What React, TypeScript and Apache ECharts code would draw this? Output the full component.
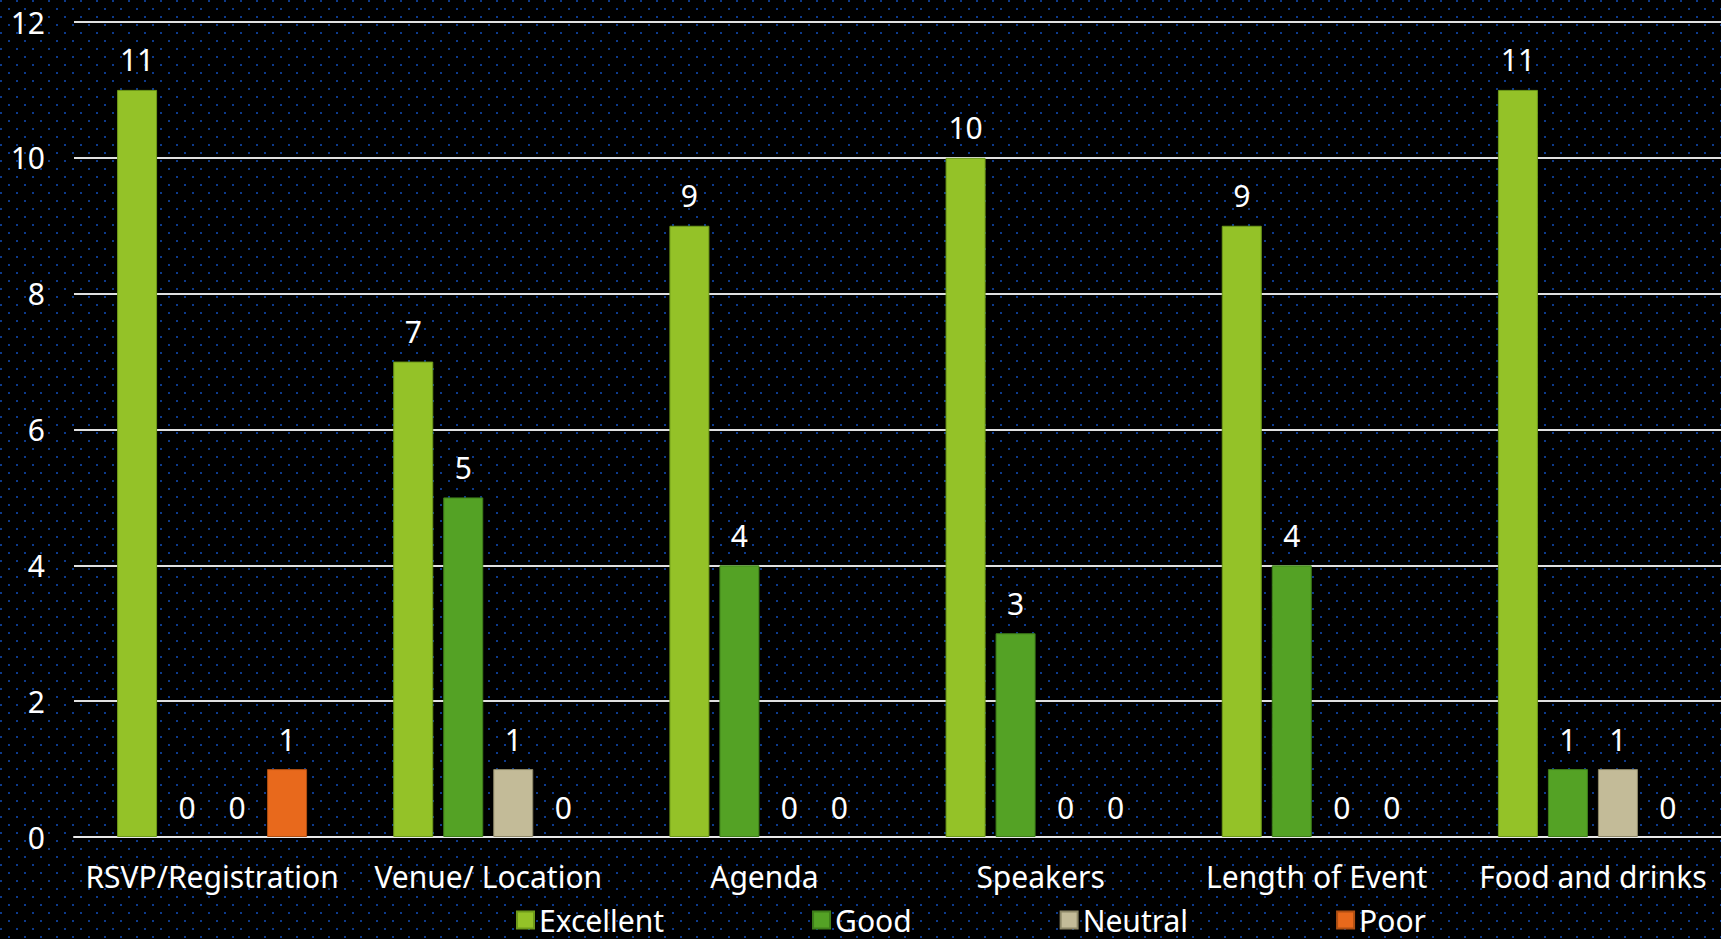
import React, { useEffect, useRef } from "react";
import * as echarts from "echarts";

const categories = [
  "RSVP/Registration",
  "Venue/ Location",
  "Agenda",
  "Speakers",
  "Length of Event",
  "Food and drinks",
];
const seriesNames = ["Excellent", "Good", "Neutral", "Poor"];
const excellent = [11, 7, 9, 10, 9, 11];
const good = [0, 5, 4, 3, 4, 1];
const neutral = [0, 1, 0, 0, 0, 1];
const poor = [1, 0, 0, 0, 0, 0];
const colors = ["#94C228", "#54A225", "#C3BB98", "#E8691C"];
const borders = ["#6E9A1A", "#3E7E1A", "#8E8868", "#B04F12"];
const yTicks = { min: 0, max: 12, interval: 2 };

const dots =
  "url(\"data:image/svg+xml;utf8," +
  encodeURIComponent(
    "<svg xmlns='http://www.w3.org/2000/svg' width='16' height='16'><rect x='0' y='0' width='2' height='2' fill='#0d3a8c'/><rect x='8' y='8' width='2' height='2' fill='#0d3a8c'/></svg>"
  ) +
  "\")";

export default function App() {
  const ref = useRef<HTMLDivElement>(null);
  useEffect(() => {
    if (!ref.current) return;
    const chart = echarts.init(ref.current, null, { renderer: "svg" });
    const values = [excellent, good, neutral, poor];
    const font = "'Noto Sans', sans-serif";
    chart.setOption({
      animation: false,
      backgroundColor: "transparent",
      textStyle: { fontFamily: font },
      grid: { left: 74, right: 0, top: 22, bottom: 102, containLabel: false },
      legend: {
        left: 511,
        top: 900,
        itemWidth: 17,
        itemHeight: 17,
        itemGap: 148,
        icon: "rect",
        textStyle: { color: "#ffffff", fontSize: 30, lineHeight: 30, fontFamily: font },
        data: seriesNames,
      },
      xAxis: {
        type: "category",
        data: categories,
        axisLine: { show: true, lineStyle: { color: "#e8e8e8", width: 2 } },
        axisTick: { show: false },
        axisLabel: { color: "#ffffff", fontSize: 30, margin: 24, fontFamily: font, interval: 0 },
      },
      yAxis: {
        type: "value",
        min: yTicks.min,
        max: yTicks.max,
        interval: yTicks.interval,
        axisLine: { show: false },
        axisTick: { show: false },
        axisLabel: { color: "#ffffff", fontSize: 30, margin: 29, fontFamily: font },
        splitLine: { lineStyle: { color: "#e0e0e0", width: 2 } },
      },
      series: seriesNames.map((name, i) => ({
        name,
        type: "bar",
        data: values[i].map((v) => ({
          value: v,
          itemStyle: { borderWidth: v > 0 ? 1 : 0 },
        })),
        barWidth: 40,
        barGap: "25%",
        itemStyle: { color: colors[i], borderColor: borders[i], borderWidth: 1 },
        label: {
          show: true,
          position: "top",
          distance: 15,
          color: "#ffffff",
          fontSize: 30,
          fontFamily: font,
        },
      })),
    });
    return () => chart.dispose();
  }, []);
  return (
    <div
      style={{
        position: "fixed",
        left: 0,
        top: 0,
        width: 1721,
        height: 939,
        overflow: "hidden",
        backgroundColor: "#000000",
        backgroundImage: dots,
        backgroundSize: "16px 16px",
      }}
    >
      <div ref={ref} style={{ width: 1731, height: 939 }} />
    </div>
  );
}
